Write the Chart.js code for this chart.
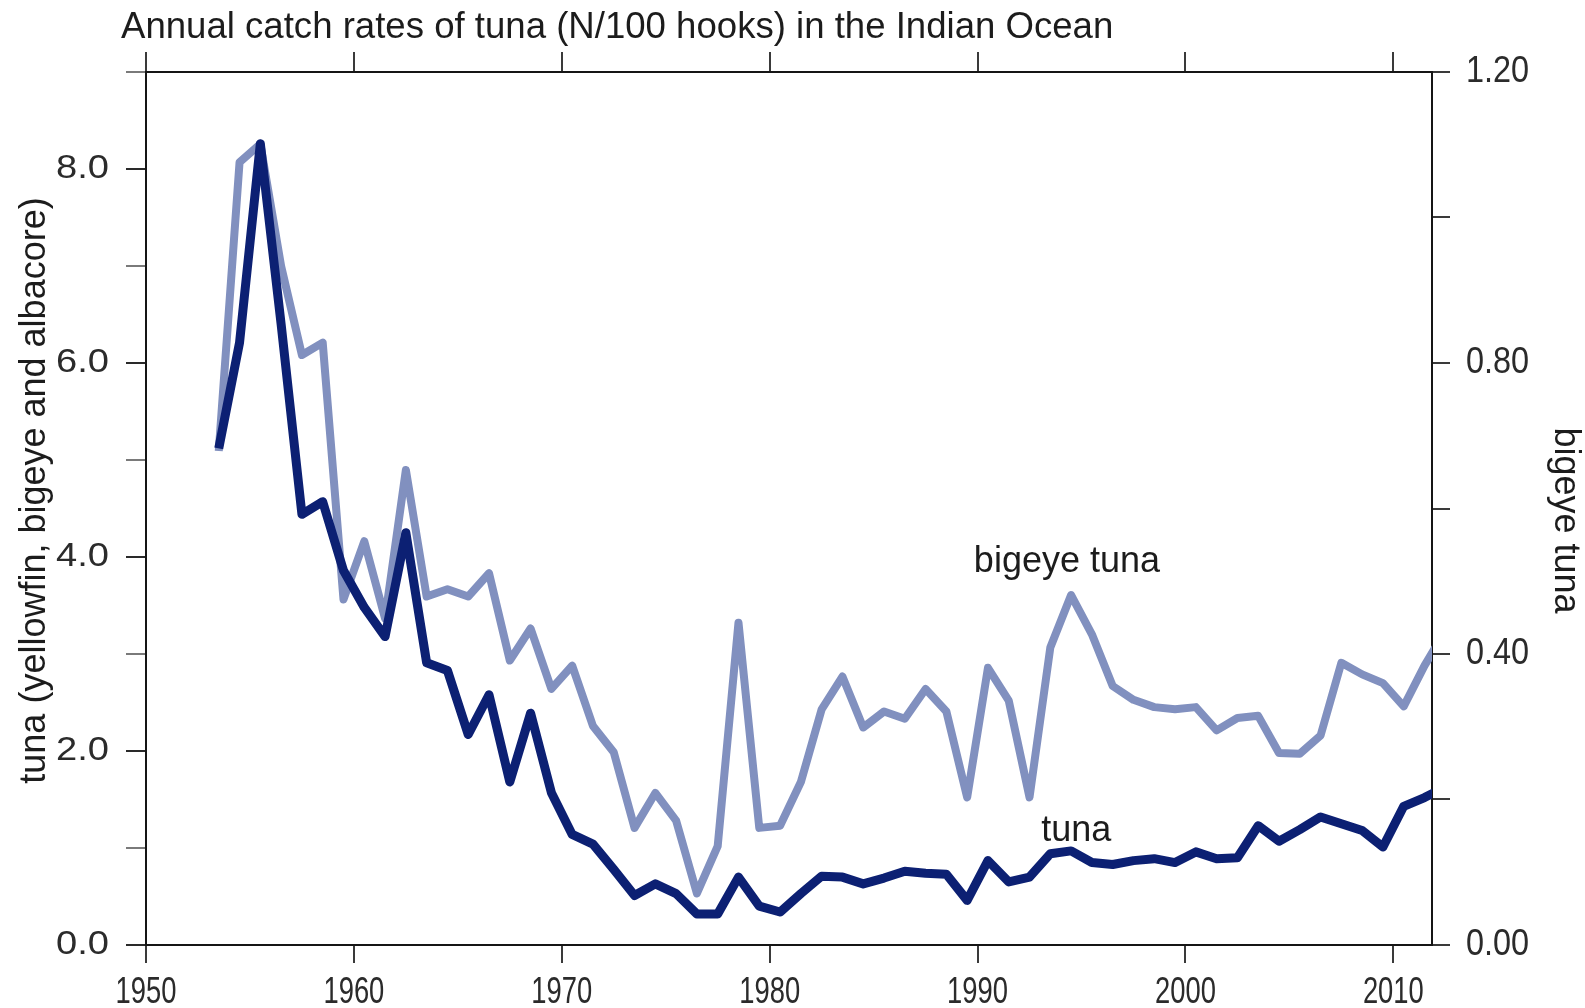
<!DOCTYPE html>
<html>
<head>
<meta charset="utf-8">
<title>Annual catch rates of tuna in the Indian Ocean</title>
<script src="https://cdn.jsdelivr.net/npm/chart.js@4.4.1/dist/chart.umd.min.js"></script>
<style>
  html, body { margin: 0; padding: 0; background: #ffffff; }
  #wrap { position: relative; width: 1585px; height: 1008px; }
</style>
</head>
<body>
<div id="wrap"><canvas id="catchChart" width="1585" height="1008"></canvas></div>
<script>
// Annual catch rates, N per 100 hooks (each year plotted at mid-year)
const years = [
  1953, 1954, 1955, 1956, 1957, 1958, 1959,
  1960, 1961, 1962, 1963, 1964, 1965, 1966, 1967, 1968, 1969,
  1970, 1971, 1972, 1973, 1974, 1975, 1976, 1977, 1978, 1979,
  1980, 1981, 1982, 1983, 1984, 1985, 1986, 1987, 1988, 1989,
  1990, 1991, 1992, 1993, 1994, 1995, 1996, 1997, 1998, 1999,
  2000, 2001, 2002, 2003, 2004, 2005, 2006, 2007, 2008, 2009,
  2010, 2011, 2012
];

// yellowfin, bigeye and albacore combined (left axis)
const tunaRates = [
  5.12, 6.21, 8.26, 6.40, 4.44, 4.57, 3.86,
  3.48, 3.18, 4.25, 2.91, 2.83, 2.17, 2.58, 1.68, 2.39, 1.57,
  1.14, 1.04, 0.78, 0.51, 0.63, 0.53, 0.32, 0.32, 0.70, 0.40,
  0.34, 0.53, 0.71, 0.70, 0.63, 0.69, 0.76, 0.74, 0.73, 0.46,
  0.87, 0.65, 0.70, 0.94, 0.97, 0.85, 0.83, 0.87, 0.89, 0.85,
  0.96, 0.89, 0.90, 1.23, 1.07, 1.19, 1.32, 1.25, 1.18, 1.01,
  1.43, 1.52, 1.63
];

// bigeye tuna only (right axis)
const bigeyeRates = [
  0.679, 1.076, 1.101, 0.933, 0.811, 0.828, 0.475,
  0.555, 0.449, 0.653, 0.479, 0.489, 0.479, 0.511, 0.391, 0.435, 0.352,
  0.384, 0.301, 0.265, 0.161, 0.209, 0.171, 0.071, 0.136, 0.443, 0.161,
  0.164, 0.224, 0.324, 0.369, 0.299, 0.321, 0.311, 0.352, 0.321, 0.203,
  0.381, 0.336, 0.203, 0.409, 0.481, 0.427, 0.356, 0.337, 0.327, 0.324,
  0.327, 0.295, 0.312, 0.315, 0.264, 0.263, 0.288, 0.388, 0.372, 0.360,
  0.328, 0.384, 0.432
];

const yearTicks = [1950, 1960, 1970, 1980, 1990, 2000, 2010];
const tunaAxisTicks = [0, 1, 2, 3, 4, 5, 6, 7, 8, 9];
const tunaAxisLabels = ['0.0', '', '2.0', '', '4.0', '', '6.0', '', '8.0', ''];
const bigeyeAxisTicks = [0, 0.2, 0.4, 0.6, 0.8, 1.0, 1.2];
const bigeyeAxisLabels = ['0.00', '', '0.40', '', '0.80', '', '1.20'];

const chartTitle = 'Annual catch rates of tuna (N/100 hooks) in the Indian Ocean';
const tunaAxisTitle = 'tuna (yellowfin, bigeye and albacore)';
const bigeyeAxisTitle = 'bigeye tuna';
const seriesNames = ['tuna', 'bigeye tuna'];
// where each series name sits, in axis units (year, left-axis value)
const seriesNameAnchors = [[1994.75, 1.17], [1994.3, 3.95]];

const TUNA_COLOR = '#0c2073';
const BIGEYE_COLOR = '#8190bf';
const FONT = '"Liberation Sans", Arial, sans-serif';

const midYear = (arr) => years.map((yr, i) => ({ x: yr + 0.5, y: arr[i] }));

function fillScaled(ctx, text, x, y, align, sx, rot) {
  ctx.save();
  ctx.translate(x, y);
  if (rot) ctx.rotate(rot);
  ctx.scale(sx, 1);
  ctx.textAlign = align;
  ctx.fillText(text, 0, 0);
  ctx.restore();
}

// Tick labels, axis titles and series names
const textLayer = {
  id: 'textLayer',
  afterDraw(chart) {
    const ctx = chart.ctx;
    const { x, y, y2 } = chart.scales;
    const area = chart.chartArea;
    ctx.save();
    ctx.textBaseline = 'middle';

    ctx.fillStyle = '#2b2b2b';
    ctx.font = '36px ' + FONT;
    yearTicks.forEach(v => fillScaled(ctx, String(v), x.getPixelForValue(v), area.bottom + 48, 'center', 0.76));
    bigeyeAxisTicks.forEach((v, i) => {
      if (bigeyeAxisLabels[i]) fillScaled(ctx, bigeyeAxisLabels[i], area.right + 34, y2.getPixelForValue(v), 'left', 0.9);
    });
    ctx.font = '34px ' + FONT;
    tunaAxisTicks.forEach((v, i) => {
      if (tunaAxisLabels[i]) fillScaled(ctx, tunaAxisLabels[i], area.left - 37, y.getPixelForValue(v), 'right', 1.12);
    });

    ctx.fillStyle = '#1c1c1c';
    ctx.font = '36.6px ' + FONT;
    fillScaled(ctx, chartTitle, 121, 28, 'left', 1.0);
    ctx.font = '36px ' + FONT;
    fillScaled(ctx, tunaAxisTitle, 35, (area.top + area.bottom) / 2 - 18, 'center', 1.0, -Math.PI / 2);
    fillScaled(ctx, bigeyeAxisTitle, 1565, (area.top + area.bottom) / 2 + 12, 'center', 1.0, Math.PI / 2);

    seriesNames.forEach((name, i) => {
      const [yr, val] = seriesNameAnchors[i];
      fillScaled(ctx, name, x.getPixelForValue(yr), y.getPixelForValue(val), 'center', 1.0);
    });
    ctx.restore();
  }
};

function axisGrid(len, colorFn) {
  return {
    display: true,
    drawOnChartArea: false,
    drawTicks: true,
    tickLength: len,
    tickWidth: 2,
    lineWidth: 2,
    tickColor: colorFn || '#3a3a3a'
  };
}
const axisBorder = { display: true, color: '#151515', width: 2 };

new Chart(document.getElementById('catchChart'), {
  type: 'line',
  data: {
    datasets: [
      {
        label: seriesNames[0],
        data: midYear(tunaRates),
        yAxisID: 'y',
        xAxisID: 'x',
        borderColor: TUNA_COLOR,
        borderWidth: 9,
        pointRadius: 0,
        tension: 0,
        borderJoinStyle: 'round',
        clip: { left: 0, top: 10, right: 0, bottom: 10 }
      },
      {
        label: seriesNames[1],
        data: midYear(bigeyeRates),
        yAxisID: 'y2',
        xAxisID: 'x',
        borderColor: BIGEYE_COLOR,
        borderWidth: 8,
        pointRadius: 0,
        tension: 0,
        borderJoinStyle: 'round',
        clip: { left: 0, top: 10, right: 0, bottom: 10 }
      }
    ]
  },
  options: {
    responsive: false,
    animation: false,
    devicePixelRatio: 1,
    layout: { padding: 0 },
    plugins: { legend: { display: false }, tooltip: { enabled: false }, title: { display: false } },
    scales: {
      x: {
        type: 'linear', position: 'bottom', min: 1950, max: 2011.86,
        afterBuildTicks: s => { s.ticks = yearTicks.map(v => ({ value: v })); },
        ticks: { display: false },
        grid: axisGrid(18),
        border: axisBorder,
        afterFit: s => { s.height = 63; }
      },
      x2: {
        type: 'linear', position: 'top', min: 1950, max: 2011.86,
        afterBuildTicks: s => { s.ticks = yearTicks.map(v => ({ value: v })); },
        ticks: { display: false },
        grid: axisGrid(20),
        border: axisBorder,
        afterFit: s => { s.height = 72; }
      },
      y: {
        type: 'linear', position: 'left', min: 0, max: 9,
        afterBuildTicks: s => { s.ticks = tunaAxisTicks.map(v => ({ value: v })); },
        ticks: { display: false },
        grid: axisGrid(20, c => (c.tick && c.tick.value % 2 === 0) ? '#2a2a2a' : '#7a7a7a'),
        border: axisBorder,
        afterFit: s => { s.width = 146; }
      },
      y2: {
        type: 'linear', position: 'right', min: 0, max: 1.2,
        afterBuildTicks: s => { s.ticks = bigeyeAxisTicks.map(v => ({ value: v })); },
        ticks: { display: false },
        grid: axisGrid(18),
        border: axisBorder,
        afterFit: s => { s.width = 153; }
      }
    }
  },
  plugins: [textLayer]
});
</script>
</body>
</html>
